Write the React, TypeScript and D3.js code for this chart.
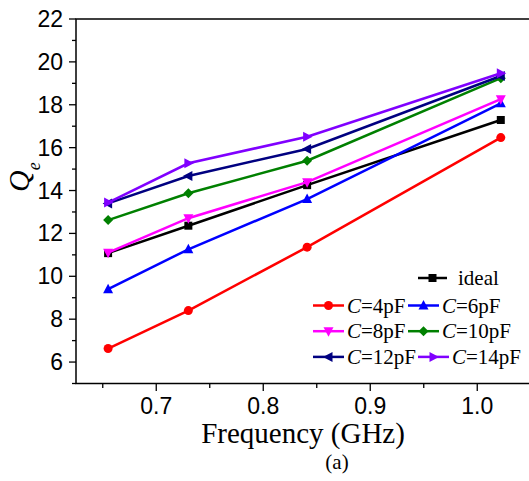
import React from "react";
import * as d3 from "d3";

const freqs = [0.655, 0.73, 0.841, 1.022];
const seriesNames = ["ideal", "4pF", "6pF", "8pF", "10pF", "12pF", "14pF"];
const idealQ = [11.08, 12.36, 14.25, 17.29];
const c4Q = [6.63, 8.4, 11.36, 16.47];
const c6Q = [9.4, 11.26, 13.6, 18.07];
const c8Q = [11.1, 12.71, 14.39, 18.26];
const c10Q = [12.62, 13.87, 15.39, 19.24];
const c12Q = [13.4, 14.68, 15.94, 19.34];
const c14Q = [13.44, 15.27, 16.51, 19.47];
const yTicks = [6, 8, 10, 12, 14, 16, 18, 20, 22];
const xTicks = [0.7, 0.8, 0.9, 1.0];

const seriesValues = [idealQ, c4Q, c6Q, c8Q, c10Q, c12Q, c14Q];
const colors = ["#000000", "#ff0000", "#0000ff", "#ff00ff", "#008000", "#000080", "#8000ff"];
const shapes = ["square", "circle", "up", "down", "diamond", "left", "right"];

function Marker({ shape, x, y, color }: { shape: string; x: number; y: number; color: string }) {
  const s = 4.5;
  let d = "";
  if (shape === "square") return <rect x={x - 4} y={y - 4} width={8} height={8} fill={color} />;
  if (shape === "circle") return <circle cx={x} cy={y} r={4.5} fill={color} />;
  if (shape === "up") d = `M${x},${y - s - 1}L${x + s + 0.5},${y + s - 0.5}L${x - s - 0.5},${y + s - 0.5}Z`;
  if (shape === "down") d = `M${x},${y + s + 1}L${x + s + 0.5},${y - s + 0.5}L${x - s - 0.5},${y - s + 0.5}Z`;
  if (shape === "diamond") d = `M${x},${y - s - 0.5}L${x + s + 0.5},${y}L${x},${y + s + 0.5}L${x - s - 0.5},${y}Z`;
  if (shape === "left") d = `M${x - s - 1},${y}L${x + s - 0.5},${y - s - 0.5}L${x + s - 0.5},${y + s + 0.5}Z`;
  if (shape === "right") d = `M${x + s + 1},${y}L${x - s + 0.5},${y - s - 0.5}L${x - s + 0.5},${y + s + 0.5}Z`;
  return <path d={d} fill={color} />;
}

export default function App() {
  const x = d3.scaleLinear().domain([0.625, 1.05]).range([76, 530.75]);
  const y = d3.scaleLinear().domain([5, 22]).range([383.5, 19]);
  const line = d3
    .line<number>()
    .x((_, i) => x(freqs[i]))
    .y((v) => y(v));
  const yMinor = d3.range(5, 22.01, 1);
  const xMinor = d3.range(0.65, 1.051, 0.05);
  const serif = "'Liberation Serif', 'Times New Roman', serif";
  const sans = "'Liberation Sans', Arial, sans-serif";

  const legendRows: { idx: number; lx: number }[][] = [
    [{ idx: 1, lx: 313 }, { idx: 2, lx: 408 }],
    [{ idx: 3, lx: 313 }, { idx: 4, lx: 408 }],
    [{ idx: 5, lx: 313 }, { idx: 6, lx: 418 }],
  ];

  return (
    <svg width={529} height={481} style={{ position: "absolute", left: 0, top: 0, background: "#fff" }}>
      <rect x={0} y={0} width={529} height={481} fill="#fff" />
      {/* frame */}
      <rect x={76} y={19} width={454.75} height={364.5} fill="none" stroke="#000" strokeWidth={1.5} />
      {/* y ticks */}
      {yMinor.map((v) => (
        <line key={"ym" + v} x1={76} x2={v % 2 === 0 ? 69 : 72} y1={y(v)} y2={y(v)} stroke="#000" strokeWidth={1.3} />
      ))}
      {yTicks.map((v) => (
        <text key={"yt" + v} x={63} y={y(v) + 8} textAnchor="end" fontFamily={sans} fontSize={23} fill="#000">
          {v}
        </text>
      ))}
      {/* x ticks */}
      {xMinor.map((v, i) => (
        <line key={"xm" + i} x1={x(v)} x2={x(v)} y1={383.5} y2={i % 2 === 1 ? 391 : 388} stroke="#000" strokeWidth={1.3} />
      ))}
      {xTicks.map((v) => (
        <text key={"xt" + v} x={x(v)} y={414} textAnchor="middle" fontFamily={sans} fontSize={23} fill="#000">
          {v.toFixed(1)}
        </text>
      ))}
      {/* axis titles */}
      <text x={303} y={443} textAnchor="middle" fontFamily={serif} fontSize={29} fill="#000">
        Frequency (GHz)
      </text>
      <text x={337} y={469} textAnchor="middle" fontFamily={serif} fontSize={21} fill="#000">
        (a)
      </text>
      <text transform="translate(29,192) rotate(-90)" fontFamily={serif} fontStyle="italic" fontSize={30} fill="#000">
        Q
        <tspan fontSize={18} dy={11}>
          e
        </tspan>
      </text>
      {/* series */}
      {seriesValues.map((vals, si) => (
        <g key={seriesNames[si]}>
          <path d={line(vals) || ""} fill="none" stroke={colors[si]} strokeWidth={2.5} />
          {vals.map((v, i) => (
            <Marker key={i} shape={shapes[si]} x={x(freqs[i])} y={y(v)} color={colors[si]} />
          ))}
        </g>
      ))}
      {/* legend */}
      <g>
        <line x1={418} x2={447} y1={278} y2={278} stroke={colors[0]} strokeWidth={2.5} />
        <Marker shape={shapes[0]} x={432.5} y={278} color={colors[0]} />
        <text x={458} y={285} fontFamily={serif} fontSize={21} fill="#000">
          {seriesNames[0]}
        </text>
        {legendRows.map((row, ri) =>
          row.map(({ idx, lx }) => {
            const ly = 305.5 + ri * 25.7;
            return (
              <g key={"lg" + idx}>
                <line x1={lx} x2={lx + 31} y1={ly} y2={ly} stroke={colors[idx]} strokeWidth={2.5} />
                <Marker shape={shapes[idx]} x={lx + 15.5} y={ly} color={colors[idx]} />
                <text x={lx + 34} y={ly + 7} fontFamily={serif} fontSize={21} fill="#000">
                  <tspan fontStyle="italic">C</tspan>={seriesNames[idx]}
                </text>
              </g>
            );
          })
        )}
      </g>
    </svg>
  );
}
